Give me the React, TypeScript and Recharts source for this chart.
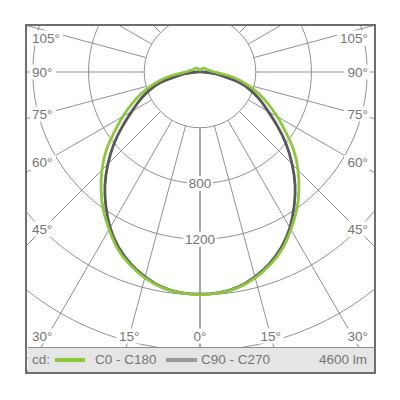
import React from 'react';
import {
  ComposedChart, Line, XAxis, YAxis,
  ReferenceLine, ReferenceDot, Legend,
} from 'recharts';

// gamma angles (deg from nadir) and intensities in cd
const GAMMA = [
  0, 5, 10, 15, 20, 25, 30, 35, 40, 45, 50, 55, 60, 65, 70, 75, 80, 85, 90,
  95, 100, 105, 110, 115, 120, 125, 130, 135, 140, 145, 150, 155, 160, 165, 170, 175, 180,
];
const C0_C180 = [
  1598, 1592, 1572, 1530, 1472, 1400, 1305, 1210, 1105, 995, 880, 750, 640, 540, 445, 350, 258, 165, 105,
  80, 68, 58, 52, 48, 46, 45, 43, 40, 36, 32, 28, 24, 20, 17, 15, 14, 14,
];
const C90_C270 = [
  1595, 1590, 1568, 1522, 1462, 1385, 1290, 1178, 1062, 935, 808, 680, 565, 475, 390, 292, 168, 85, 20,
  5, 0, 0, 0, 0, 0, 0, 0, 0, 0, 0, 0, 0, 0, 0, 0, 0, 0,
];

const RINGS = [400, 800, 1200, 1600, 2000, 2400];
const RING_LABELS = [800, 1200];
const RAYS = [0, 15, 30, 45, 60, 75, 90, 105, 120, 135, 150, 165, 180];
const BOTTOM_LABELS = [0, 15];
const SIDE_LABELS = [30, 45, 60, 75, 90, 105];
const FLUX = '4600 lm';
const UNIT = 'cd:';

const GREEN = '#8dc63f';
const DARK = '#58585a';
const GRID = '#7d7d7d';
const TEXT = '#757575';
const FONT = '"Liberation Sans", Arial, sans-serif';

// layout: centre of the polar diagram and the frame, in page pixels
const S = 0.1393; // px per cd
const CX = 200, CY = 72;
const L = 26, T = 25, R = 375, B = 373;
const X_DOMAIN = [(L - CX) / S, (R - CX) / S];
const Y_DOMAIN = [-(B - CY) / S, (CY - T) / S];

const rad = (d: number) => (d * Math.PI) / 180;
const pt = (v: number, g: number, side: number) => ({
  x: side * v * Math.sin(rad(g)),
  y: -v * Math.cos(rad(g)),
});

// both half planes of one C-plane pair, from the top on the left round to the top on the right
const curve = (vals: number[]) => {
  const left = GAMMA.map((g, i) => pt(vals[i], g, -1)).reverse();
  const right = GAMMA.map((g, i) => pt(vals[i], g, 1)).slice(1);
  return [...left, ...right];
};

const RING_STEPS = Array.from({ length: 121 }, (_, i) => i * 3);
const ring = (v: number) => RING_STEPS.map((g) => pt(v, g, 1));

// bottom labels are centred on their ray; side labels hug the frame at the ray's height
const bottomPos = (g: number, side: number) => {
  const d = 264 / S;
  return { x: side * d * Math.tan(rad(g)), y: -d };
};
const sidePos = (g: number, side: number) => {
  const w = 157 / S, d = 264 / S, top = (CY - T - 13) / S;
  const y = -w / Math.tan(rad(g));
  return { x: side * (168 / S), y: Math.max(Math.min(y, top), -d) };
};

const tag = (text: string, anchor: 'start' | 'middle' | 'end') => (p: any) => {
  const w = text.length * 7.3 + 4;
  const x0 = anchor === 'middle' ? p.cx - w / 2 : anchor === 'start' ? p.cx - 2 : p.cx - w + 2;
  return (
    <g>
      <rect x={x0} y={p.cy - 7.5} width={w} height={15} fill="#fff" />
      <text x={p.cx} y={p.cy + 4.8} textAnchor={anchor} fontSize={13.5}
        fontFamily={FONT} fill={TEXT}>{text}</text>
    </g>
  );
};

const LegendBar = () => (
  <div style={{
    position: 'relative', width: 347, height: 25, boxSizing: 'border-box',
    background: '#e5e5e5', borderTop: '1px solid #8c8c8c',
    fontFamily: FONT, fontSize: 13.5, color: TEXT, lineHeight: '24px',
  }}>
    <span style={{ position: 'absolute', left: 4.5 }}>{UNIT}</span>
    <span style={{ position: 'absolute', left: 27.5, top: 10, width: 30, height: 3.5, background: GREEN }} />
    <span style={{ position: 'absolute', left: 67.5 }}>C0 - C180</span>
    <span style={{ position: 'absolute', left: 138.5, top: 10, width: 31, height: 3.5, background: '#9b9b9b' }} />
    <span style={{ position: 'absolute', left: 173.5 }}>C90 - C270</span>
    <span style={{ position: 'absolute', right: 7.5 }}>{FLUX}</span>
  </div>
);

export default function App() {
  const sides = [-1, 1];
  return (
    <div style={{ position: 'absolute', left: 0, top: 0, width: 400, height: 400, background: '#fff' }}>
      <ComposedChart width={400} height={400}
        margin={{ top: T, right: 400 - R, bottom: 400 - B, left: L }}>
        <XAxis type="number" dataKey="x" domain={X_DOMAIN} allowDataOverflow hide />
        <YAxis type="number" dataKey="y" domain={Y_DOMAIN} allowDataOverflow hide />

        {RINGS.map((v) => (
          <Line key={`ring-${v}`} data={ring(v)} dataKey="y" type="linear" stroke={GRID}
            strokeWidth={0.85} dot={false} activeDot={false} legendType="none"
            isAnimationActive={false} zIndex={100} />
        ))}

        {RAYS.flatMap((g) => sides.map((side) => (
          <ReferenceLine key={`ray-${g}-${side}`} ifOverflow="hidden" stroke={GRID} strokeWidth={0.85}
            segment={[pt(RINGS[0], g, side), pt(3600, g, side)]} zIndex={100} />
        )))}

        {RING_LABELS.map((v) => (
          <ReferenceDot key={`rl-${v}`} x={0} y={-v} r={0} shape={tag(String(v), 'middle')} zIndex={200} />
        ))}

        {BOTTOM_LABELS.flatMap((g) => (g === 0 ? [1] : sides).map((side) => {
          const p = bottomPos(g, side);
          return (
            <ReferenceDot key={`bl-${g}-${side}`} x={p.x} y={p.y} r={0}
              shape={tag(`${g}°`, 'middle')} zIndex={200} />
          );
        }))}

        {SIDE_LABELS.flatMap((g) => sides.map((side) => {
          const p = sidePos(g, side);
          return (
            <ReferenceDot key={`sl-${g}-${side}`} x={p.x} y={p.y} r={0}
              shape={tag(`${g}°`, side < 0 ? 'start' : 'end')} zIndex={200} />
          );
        }))}

        <Line data={curve(C90_C270)} dataKey="y" name="C90 - C270" type="natural" stroke={DARK}
          strokeWidth={2.8} dot={false} activeDot={false} isAnimationActive={false} zIndex={500} />
        <Line data={curve(C0_C180)} dataKey="y" name="C0 - C180" type="natural" stroke={GREEN}
          strokeWidth={2.8} dot={false} activeDot={false} isAnimationActive={false} zIndex={500} />

        <Legend layout="horizontal" verticalAlign="middle" align="center" content={LegendBar}
          wrapperStyle={{ left: 27.5, top: 347, width: 347, height: 25 }} />
      </ComposedChart>
      <div style={{
        position: 'absolute', left: L - 1.25, top: T - 1.25, width: R - L + 2.5, height: B - T + 2.5,
        border: '2.5px solid #6e6e6e', boxSizing: 'border-box', pointerEvents: 'none',
      }} />
    </div>
  );
}
